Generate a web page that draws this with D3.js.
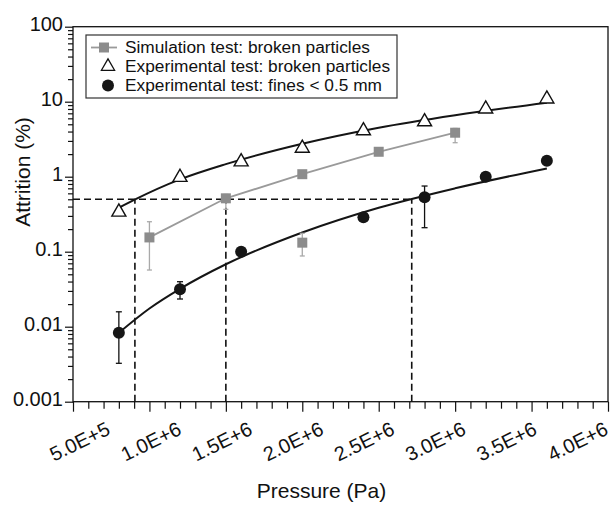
<!DOCTYPE html>
<html>
<head>
<meta charset="utf-8">
<script src="https://cdn.jsdelivr.net/npm/d3@7/dist/d3.min.js"></script>
<style>
  html, body { margin: 0; padding: 0; background: #fff; }
  svg { display: block; font-family: "Liberation Sans", Arial, Helvetica, sans-serif; }
</style>
</head>
<body>
<svg id="chart" width="615" height="505"></svg>
<script>
// ---- data (pressure in Pa, attrition in %) ----
const simPressure = [1.0e6, 1.5e6, 2.0e6, 2.5e6, 3.0e6];
const simAttrition = [0.155, 0.515, 1.08, 2.15, 3.86];
const simLow = [0.057, 0.367, null, null, 2.84];
const simHigh = [0.251, 0.58, null, null, 4.4];

// lone simulation point, not joined to the line
const simLonePressure = [2.0e6];
const simLoneAttrition = [0.132];
const simLoneLow = [0.0877];
const simLoneHigh = [0.176];

const expBrokenPressure = [0.8e6, 1.2e6, 1.6e6, 2.0e6, 2.4e6, 2.8e6, 3.2e6, 3.6e6];
const expBrokenAttrition = [0.338, 0.98, 1.58, 2.4, 4.1, 5.4, 8.0, 10.9];

const expFinesPressure = [0.8e6, 1.2e6, 1.6e6, 2.4e6, 2.8e6, 3.2e6, 3.6e6];
const expFinesAttrition = [0.0083, 0.0315, 0.100, 0.288, 0.531, 1.0, 1.63];
const expFinesLow = [0.00325, 0.0234, null, null, 0.209, null, null];
const expFinesHigh = [0.0158, 0.0398, null, null, 0.751, null, null];

// trend curves through the experimental series
const trendPressure = [0.8e6, 0.9e6, 1.2e6, 1.5e6, 2.0e6, 2.5e6, 3.0e6, 3.6e6];
const trendBroken = [0.385, 0.49, 0.92, 1.47, 2.75, 4.5, 6.6, 9.7];
const trendFinesPressure = [0.8e6, 1.0e6, 1.2e6, 1.5e6, 2.0e6, 2.5e6, 3.0e6, 3.6e6];
const trendFines = [0.0083, 0.0175, 0.032, 0.068, 0.18, 0.385, 0.70, 1.29];

// 0.5 % attrition reference and the pressures where each series reaches it
const refLevel = 0.5;
const refPressures = [0.905e6, 1.5e6, 2.716e6];

const xTicksMajor = [5e5, 1e6, 1.5e6, 2e6, 2.5e6, 3e6, 3.5e6, 4e6];
const yTicksMajor = [0.001, 0.01, 0.1, 1, 10, 100];
const yTickLabels = ["0.001", "0.01", "0.1", "1", "10", "100"];

const legendLabels = [
  "Simulation test: broken particles",
  "Experimental test: broken particles",
  "Experimental test: fines < 0.5 mm"
];

// ---- layout ----
const plot = { left: 73, right: 608, top: 26.7, bottom: 401.7 };
const svg = d3.select("#chart");

const x = d3.scaleLinear().domain([5e5, 4e6]).range([plot.left, plot.right]);
const y = d3.scaleLog().domain([0.001, 100]).range([plot.bottom, plot.top]);
// rotated tick labels sit on a slightly tighter spacing than the ticks
const xLabel = d3.scaleLinear().domain(x.domain()).range([plot.left + 38, plot.right + 1]);

const grayLine = "#9a9a9a";
const grayFill = "#8c8c8c";
const grayErr = "#a9a9a9";

// ---- axes ----
const xMinor = d3.range(5e5, 4e6 + 1, 1e5).filter(v => !xTicksMajor.some(m => Math.abs(m - v) < 1));
svg.append("g").attr("transform", `translate(0,${plot.bottom})`)
  .call(d3.axisBottom(x).tickValues(xMinor).tickSize(7).tickSizeOuter(0).tickFormat(""));
const gx = svg.append("g").attr("transform", `translate(0,${plot.bottom})`)
  .call(d3.axisBottom(x).tickValues(xTicksMajor).tickSize(10).tickSizeOuter(0)
    .tickFormat(d => d3.format(".1e")(d).replace("e", "E")));
gx.selectAll("text")
  .attr("x", 0).attr("y", 0).attr("dy", null)
  .attr("text-anchor", "end")
  .attr("transform", d => `translate(${xLabel(d) - x(d)},32) rotate(-26)`)
  .style("font-size", "20px").style("fill", "#111");

const yMinor = [];
[0.001, 0.01, 0.1, 1, 10].forEach(dec => { for (let k = 2; k <= 9; k++) yMinor.push(dec * k); });
svg.append("g").attr("transform", `translate(${plot.left},0)`)
  .call(d3.axisLeft(y).tickValues(yMinor).tickSize(5).tickSizeOuter(0).tickFormat(""));
const gy = svg.append("g").attr("transform", `translate(${plot.left},0)`)
  .call(d3.axisLeft(y).tickValues(yTicksMajor).tickSize(8).tickSizeOuter(0).tickPadding(2)
    .tickFormat((d, i) => yTickLabels[i]));
gy.selectAll("text").attr("dy", "0.17em").style("font-size", "20px").style("fill", "#111");

svg.selectAll(".domain").remove();
svg.selectAll(".tick line").attr("stroke", "#111").attr("stroke-width", 1.2);

svg.append("rect")
  .attr("x", plot.left).attr("y", plot.top)
  .attr("width", plot.right - plot.left).attr("height", plot.bottom - plot.top)
  .attr("fill", "none").attr("stroke", "#111").attr("stroke-width", 1.3);

// axis titles
svg.append("text").attr("x", 321.5).attr("y", 498).attr("text-anchor", "middle")
  .style("font-size", "21px").style("fill", "#111").text("Pressure (Pa)");
svg.append("text").attr("transform", "translate(30,172) rotate(-90)").attr("text-anchor", "middle")
  .style("font-size", "21px").style("fill", "#111").text("Attrition (%)");

// ---- reference lines at 0.5 % ----
const refG = svg.append("g").attr("stroke", "#111").attr("stroke-width", 1.6)
  .attr("stroke-dasharray", "7,4").attr("fill", "none");
refG.append("line")
  .attr("x1", x(5e5)).attr("x2", x(d3.max(refPressures)))
  .attr("y1", y(refLevel)).attr("y2", y(refLevel));
refG.selectAll("line.v").data(refPressures).join("line").attr("class", "v")
  .attr("x1", d => x(d)).attr("x2", d => x(d))
  .attr("y1", y(0.001)).attr("y2", y(refLevel));

// ---- trend curves ----
const smooth = d3.line().x(d => x(d[0])).y(d => y(d[1])).curve(d3.curveMonotoneX);
svg.append("path").datum(d3.zip(trendPressure, trendBroken))
  .attr("d", smooth).attr("fill", "none").attr("stroke", "#151515").attr("stroke-width", 2);
svg.append("path").datum(d3.zip(trendFinesPressure, trendFines))
  .attr("d", smooth).attr("fill", "none").attr("stroke", "#151515").attr("stroke-width", 2);

// simulation polyline
const straight = d3.line().x(d => x(d[0])).y(d => y(d[1]));
svg.append("path").datum(d3.zip(simPressure, simAttrition))
  .attr("d", straight).attr("fill", "none").attr("stroke", grayLine).attr("stroke-width", 1.8);

// ---- error bars ----
function errorBars(P, lo, hi, color, cap) {
  const rows = P.map((p, i) => ({ p, lo: lo[i], hi: hi[i] })).filter(r => r.lo != null);
  const g = svg.append("g").attr("stroke", color).attr("stroke-width", 1.3);
  rows.forEach(r => {
    g.append("line").attr("x1", x(r.p)).attr("x2", x(r.p)).attr("y1", y(r.lo)).attr("y2", y(r.hi));
    g.append("line").attr("x1", x(r.p) - cap).attr("x2", x(r.p) + cap).attr("y1", y(r.lo)).attr("y2", y(r.lo));
    g.append("line").attr("x1", x(r.p) - cap).attr("x2", x(r.p) + cap).attr("y1", y(r.hi)).attr("y2", y(r.hi));
  });
}
errorBars(simPressure, simLow, simHigh, grayErr, 2.5);
errorBars(simLonePressure, simLoneLow, simLoneHigh, grayErr, 2.5);
errorBars(expFinesPressure, expFinesLow, expFinesHigh, "#111", 3);

// ---- markers ----
const square = d3.symbol().type(d3.symbolSquare).size(100);
const triangle = d3.symbol().type(d3.symbolTriangle).size(85);

svg.append("g").selectAll("path")
  .data(d3.zip(simPressure.concat(simLonePressure), simAttrition.concat(simLoneAttrition)))
  .join("path").attr("d", square)
  .attr("transform", d => `translate(${x(d[0])},${y(d[1])})`)
  .attr("fill", grayFill);

svg.append("g").selectAll("path").data(d3.zip(expBrokenPressure, expBrokenAttrition))
  .join("path").attr("d", triangle)
  .attr("transform", d => `translate(${x(d[0])},${y(d[1])})`)
  .attr("fill", "#fff").attr("stroke", "#111").attr("stroke-width", 1.4);

svg.append("g").selectAll("circle").data(d3.zip(expFinesPressure, expFinesAttrition))
  .join("circle")
  .attr("cx", d => x(d[0])).attr("cy", d => y(d[1])).attr("r", 6)
  .attr("fill", "#161616");

// ---- legend ----
const lg = svg.append("g");
lg.append("rect").attr("x", 86).attr("y", 35).attr("width", 311).attr("height", 63)
  .attr("fill", "#fff").attr("stroke", "#333").attr("stroke-width", 1.2);
const rowY = [47.5, 66.5, 85.5];
lg.append("line").attr("x1", 91).attr("x2", 117).attr("y1", rowY[0]).attr("y2", rowY[0])
  .attr("stroke", grayLine).attr("stroke-width", 1.8);
lg.append("path").attr("d", square).attr("transform", `translate(104,${rowY[0]})`).attr("fill", grayFill);
lg.append("path").attr("d", d3.symbol().type(d3.symbolTriangle).size(75))
  .attr("transform", `translate(108,${rowY[1]})`)
  .attr("fill", "#fff").attr("stroke", "#111").attr("stroke-width", 1.3);
lg.append("circle").attr("cx", 108).attr("cy", rowY[2]).attr("r", 6).attr("fill", "#161616");
lg.selectAll("text.lbl").data(legendLabels).join("text").attr("class", "lbl")
  .attr("x", 125).attr("y", (d, i) => rowY[i] + 5.5)
  .style("font-size", "17.3px").style("fill", "#111")
  .text(d => d);
</script>
</body>
</html>
